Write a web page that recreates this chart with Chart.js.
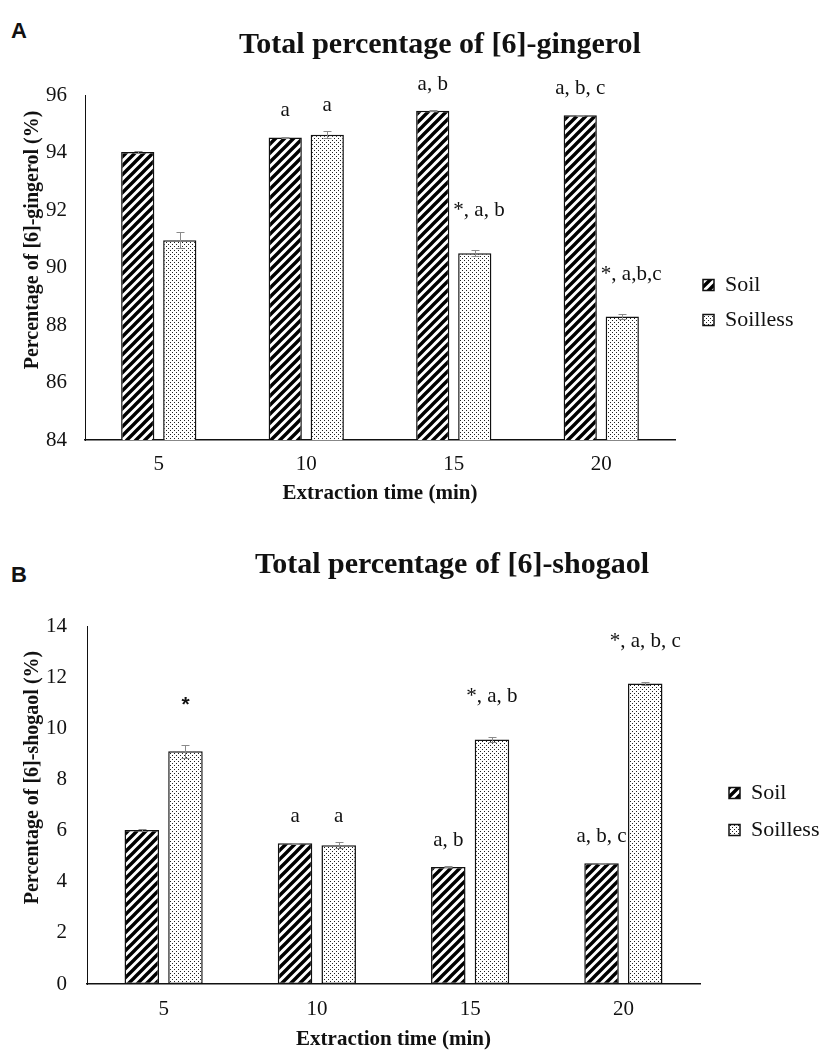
<!DOCTYPE html>
<html><head><meta charset="utf-8">
<script src="https://cdn.jsdelivr.net/npm/chart.js@4.4.1/dist/chart.umd.min.js"></script>
<style>
html,body{margin:0;padding:0;background:#fff;}
#wrap{position:relative;width:819px;height:1055px;overflow:hidden;background:#fff;}
.panel{position:absolute;left:0;width:819px;}
.letter{position:absolute;left:11px;font:bold 22px 'Liberation Sans',Arial,sans-serif;color:#111;line-height:24px;}
</style></head><body>
<div id="wrap">
  <div class="letter" style="top:19px">A</div>
  <div class="letter" style="top:563px">B</div>
  <div class="panel" style="top:0;height:520px"><canvas id="cA" width="819" height="520"></canvas></div>
  <div class="panel" style="top:527px;height:528px"><canvas id="cB" width="819" height="528"></canvas></div>
</div>
<script>
// ---------- data ----------
const categories = ['5', '10', '15', '20'];
const seriesNames = ['Soil', 'Soilless'];

const gingerolSoil        = [94.02, 94.52, 95.45, 95.30];
const gingerolSoilErr     = [0.03, 0.02, 0.02, 0.02];
const gingerolSoilless    = [90.95, 94.62, 90.50, 88.30];
const gingerolSoillessErr = [0.27, 0.12, 0.10, 0.08];
const gingerolSoilSig     = ['', 'a', 'a, b', 'a, b, c'];
const gingerolSoillessSig = ['', 'a', '*, a, b', '*, a,b,c'];
const gingerolTicks       = [84, 86, 88, 90, 92, 94, 96];

const shogaolSoil        = [6.02, 5.50, 4.58, 4.72];
const shogaolSoilErr     = [0.03, 0.03, 0.02, 0.02];
const shogaolSoilless    = [9.10, 5.43, 9.56, 11.75];
const shogaolSoillessErr = [0.25, 0.12, 0.10, 0.07];
const shogaolSoilSig     = ['', 'a', 'a, b', 'a, b, c'];
const shogaolSoillessSig = ['*', 'a', '*, a, b', '*, a, b, c'];
const shogaolTicks       = [0, 2, 4, 6, 8, 10, 12, 14];

// ---------- styles ----------
Chart.defaults.font.family = "'Liberation Serif','Times New Roman',Times,serif";
Chart.defaults.color = '#111';

function stripePattern() {
  const s = 9;
  const c = document.createElement('canvas'); c.width = c.height = s;
  const g = c.getContext('2d');
  g.fillStyle = '#fff'; g.fillRect(0, 0, s, s);
  g.strokeStyle = '#000'; g.lineWidth = 3.4; g.lineCap = 'square';
  g.beginPath();
  g.moveTo(0, s); g.lineTo(s, 0);
  g.moveTo(-s / 2, s / 2); g.lineTo(s / 2, -s / 2);
  g.moveTo(s / 2, s * 1.5); g.lineTo(s * 1.5, s / 2);
  g.stroke();
  return g.createPattern(c, 'repeat');
}
function dotPattern() {
  const c = document.createElement('canvas'); c.width = c.height = 4;
  const g = c.getContext('2d');
  g.fillStyle = '#fff'; g.fillRect(0, 0, 4, 4);
  g.fillStyle = '#222';
  g.fillRect(0, 0, 1, 1); g.fillRect(2, 2, 1, 1);
  return g.createPattern(c, 'repeat');
}

const errorBarsPlugin = {
  id: 'errorBars',
  afterDatasetsDraw(chart, args, opts) {
    const ctx = chart.ctx, y = chart.scales.y;
    ctx.save();
    ctx.strokeStyle = opts.color; ctx.lineWidth = 1;
    chart.data.datasets.forEach((ds, i) => {
      const meta = chart.getDatasetMeta(i);
      if (!ds.errors || meta.hidden) return;
      meta.data.forEach((bar, j) => {
        const v = ds.data[j], e = ds.errors[j];
        const yT = Math.round(y.getPixelForValue(v + e)) + 0.5;
        const yB = Math.round(y.getPixelForValue(v - e)) + 0.5;
        const x = Math.round(bar.x) + 0.5, h = opts.cap;
        ctx.beginPath();
        ctx.moveTo(x, yT); ctx.lineTo(x, yB);
        ctx.moveTo(x - h, yT); ctx.lineTo(x + h, yT);
        ctx.moveTo(x - h, yB); ctx.lineTo(x + h, yB);
        ctx.stroke();
      });
    });
    ctx.restore();
  }
};

// significance letters above bars; nudged right if they would collide with the neighbouring bar
const sigPlugin = {
  id: 'sigLabels',
  afterDatasetsDraw(chart, args, opts) {
    const ctx = chart.ctx, y = chart.scales.y;
    ctx.save();
    ctx.fillStyle = '#111'; ctx.textAlign = 'center'; ctx.textBaseline = 'middle';
    chart.data.datasets.forEach((ds, i) => {
      const meta = chart.getDatasetMeta(i);
      if (!ds.sig) return;
      meta.data.forEach((bar, j) => {
        const t = ds.sig[j];
        if (!t) return;
        const top = y.getPixelForValue(ds.data[j] + (ds.errors ? ds.errors[j] : 0));
        const ly = top - (t.charAt(0) === '*' ? opts.starOffset : opts.offset);
        ctx.font = t === '*' ? opts.starFont : opts.font;
        const w = ctx.measureText(t).width;
        let lx = bar.x;
        if (i > 0) {
          const nb = chart.getDatasetMeta(i - 1).data[j];
          const nRight = nb.x + nb.width / 2;
          if (nb.y < ly + 10 && lx - w / 2 < nRight + 4) lx = nRight + 4 + w / 2;
        }
        ctx.fillText(t, lx, ly);
      });
    });
    ctx.restore();
  }
};

const placeBoxesPlugin = {
  id: 'placeBoxes',
  afterLayout(chart, args, opts) {
    const t = chart.titleBlock;
    if (t && opts.titleX != null) {
      const half = (t.right - t.left) / 2;
      t.left = opts.titleX - half; t.right = opts.titleX + half;
    }
    const lg = chart.legend;
    if (lg && opts.legendX != null) {
      const p = opts.legendPad, fs = opts.legendFont;
      lg.left = opts.legendX - p; lg.right = lg.left + 150;
      lg.top = opts.legendY - fs / 2 - p; lg.bottom = lg.top + 150;
    }
  }
};

function makeChart(id, cfg) {
  const stripe = stripePattern(), dots = dotPattern();
  const LEG_W = 100;
  return new Chart(document.getElementById(id), {
    type: 'bar',
    data: {
      labels: categories,
      datasets: [
        { label: seriesNames[0], data: cfg.soil, errors: cfg.soilErr, sig: cfg.soilSig,
          backgroundColor: stripe, borderColor: '#111', borderWidth: 1.5, borderSkipped: false,
          categoryPercentage: 0.57, barPercentage: 0.79 },
        { label: seriesNames[1], data: cfg.soilless, errors: cfg.soillessErr, sig: cfg.soillessSig,
          backgroundColor: dots, borderColor: '#111', borderWidth: 1.5, borderSkipped: false,
          categoryPercentage: 0.57, barPercentage: 0.79 }
      ]
    },
    options: {
      responsive: false, animation: false,
      layout: { padding: { left: 0, top: 0, bottom: 0, right: 819 - cfg.plotRight - LEG_W } },
      plugins: {
        title: { display: true, text: cfg.title, color: '#111',
                 font: { size: 30, weight: 'bold' }, padding: cfg.titlePad },
        legend: { display: true, position: 'right', align: 'start', maxWidth: LEG_W,
                  labels: { font: { size: 22 }, color: '#111', boxWidth: 11, boxHeight: 11,
                            padding: cfg.legendPad } },
        tooltip: { enabled: false },
        errorBars: { color: '#8a8a8a', cap: 4 },
        sigLabels: { font: "21px 'Liberation Serif','Times New Roman',serif",
                     starFont: "bold 21px 'Liberation Sans',Arial,sans-serif",
                     offset: 26, starOffset: 40 },
        placeBoxes: { titleX: cfg.titleX, legendX: cfg.legendX, legendY: cfg.legendY,
                      legendPad: cfg.legendPad, legendFont: 22 }
      },
      scales: {
        x: {
          grid: { display: false, drawTicks: false },
          border: { display: true, color: '#111', width: 1.5 },
          ticks: { font: { size: 21 }, color: '#111', padding: cfg.xTickPad },
          title: { display: true, text: 'Extraction time (min)', color: '#111',
                   font: { size: 21, weight: 'bold' }, padding: { top: 0, bottom: cfg.xTitlePad } },
          afterFit(s) { s.height = cfg.xHeight; }
        },
        y: {
          min: cfg.ticks[0], max: cfg.ticks[cfg.ticks.length - 1],
          grid: { display: false, drawTicks: false },
          border: { display: true, color: '#111', width: 1 },
          ticks: { font: { size: 21 }, color: '#111', padding: cfg.yTickPad },
          afterBuildTicks(s) { s.ticks = cfg.ticks.map(v => ({ value: v })); },
          title: { display: true, text: ' '.repeat(11) + cfg.yTitle, color: '#111',
                   font: { size: 20, weight: 'bold' }, padding: { top: 21, bottom: 0 } },
          afterFit(s) { s.width = cfg.plotLeft; }
        }
      }
    },
    plugins: [errorBarsPlugin, sigPlugin, placeBoxesPlugin]
  });
}

makeChart('cA', {
  title: 'Total percentage of [6]-gingerol', yTitle: 'Percentage of [6]-gingerol (%)',
  soil: gingerolSoil, soilErr: gingerolSoilErr, soilSig: gingerolSoilSig,
  soilless: gingerolSoilless, soillessErr: gingerolSoillessErr, soillessSig: gingerolSoillessSig,
  ticks: gingerolTicks,
  plotLeft: 85, plotRight: 675, titlePad: { top: 27, bottom: 32 },
  xHeight: 80, xTickPad: 12, xTitlePad: 14, yTickPad: 18,
  titleX: 440, legendX: 703, legendY: 285, legendPad: 13
});
makeChart('cB', {
  title: 'Total percentage of [6]-shogaol', yTitle: 'Percentage of [6]-shogaol (%)',
  soil: shogaolSoil, soilErr: shogaolSoilErr, soilSig: shogaolSoilSig,
  soilless: shogaolSoilless, soillessErr: shogaolSoillessErr, soillessSig: shogaolSoillessSig,
  ticks: shogaolTicks,
  plotLeft: 87, plotRight: 700, titlePad: { top: 20, bottom: 43 },
  xHeight: 71, xTickPad: 13, xTitlePad: 3, yTickPad: 20,
  titleX: 452, legendX: 729, legendY: 266, legendPad: 15
});
</script>
</body></html>
